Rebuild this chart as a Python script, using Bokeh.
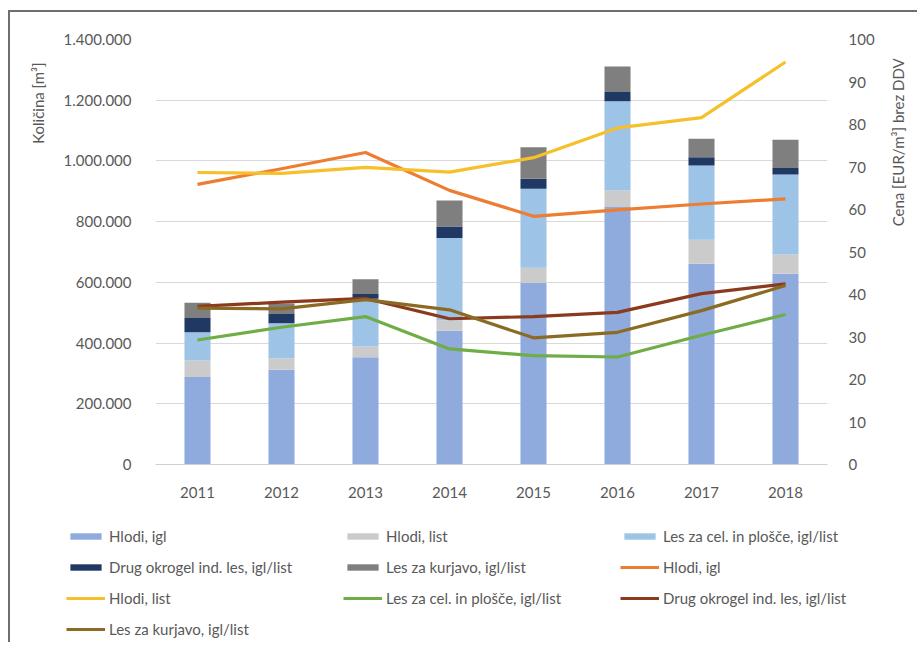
from bokeh.plotting import figure
from bokeh.layouts import row, column
from bokeh.models import (FactorRange, Range1d, LinearAxis, FixedTicker, CustomJSTickFormatter,
                          Legend, LegendItem, Label, ColumnDataSource)
from bokeh.embed import file_html
from bokeh.resources import INLINE

years = ["2011", "2012", "2013", "2014", "2015", "2016", "2017", "2018"]

# Quantities [m3] (stacked bars)
q_hlodi_igl = [288000, 312000, 353000, 441000, 599000, 848000, 661000, 628000]
q_hlodi_list = [55000, 38000, 36000, 33000, 49000, 55000, 79000, 64000]
q_les_cel = [93000, 115000, 157000, 272000, 260000, 294000, 245000, 263000]
q_drug = [47000, 31000, 16000, 38000, 33000, 30000, 27000, 22000]
q_kurjavo = [50000, 34000, 48000, 86000, 104000, 84000, 61000, 93000]

# Prices [EUR/m3] (lines)
p_hlodi_igl = [65.9, 69.6, 73.4, 64.5, 58.4, 59.9, 61.3, 62.5]
p_hlodi_list = [68.7, 68.5, 69.9, 68.8, 72.2, 79.2, 81.6, 94.7]
p_les_cel = [29.3, 32.3, 34.8, 27.2, 25.6, 25.3, 30.4, 35.3]
p_drug = [37.2, 38.2, 39.1, 34.3, 34.8, 35.8, 40.2, 42.5]
p_kurjavo = [36.8, 36.6, 38.8, 36.4, 29.8, 31.1, 36.2, 42.1]

bar_labels = ["Hlodi, igl", "Hlodi, list", "Les za cel. in plošče, igl/list",
              "Drug okrogel ind. les, igl/list", "Les za kurjavo, igl/list"]
line_labels = ["Hlodi, igl", "Hlodi, list", "Les za cel. in plošče, igl/list",
               "Drug okrogel ind. les, igl/list", "Les za kurjavo, igl/list"]
y_left_ticks = [0, 200000, 400000, 600000, 800000, 1000000, 1200000, 1400000]
y_right_ticks = [0, 10, 20, 30, 40, 50, 60, 70, 80, 90, 100]
title_left = "Količina [m³]"
title_right = "Cena [EUR/m³] brez DDV"

bar_colors = ["#8faadc", "#cbcbcb", "#9dc3e6", "#203864", "#7f7f7f"]
line_colors = ["#ed7d31", "#f5c02a", "#70ad47", "#8b3a1e", "#8b6b23"]

FONT = "Lato"
TXT = "#595959"
FS = "15px"


def blank(w, h, **kw):
    f = figure(width=w, height=h, x_range=Range1d(0, w), y_range=Range1d(0, h),
               min_border=0, output_backend="svg", toolbar_location=None, **kw)
    f.axis.visible = False
    f.grid.visible = False
    f.outline_line_color = None
    return f


src = ColumnDataSource(dict(
    year=years,
    q1=q_hlodi_igl, q2=q_hlodi_list, q3=q_les_cel, q4=q_drug, q5=q_kurjavo,
    p1=p_hlodi_igl, p2=p_hlodi_list, p3=p_les_cel, p4=p_drug, p5=p_kurjavo,
))

MAIN_W, MAIN_H = 820, 498
p = figure(x_range=FactorRange(*years), y_range=Range1d(0, 1400000),
           width=MAIN_W, height=MAIN_H,
           min_border_left=95, min_border_right=53, min_border_top=27, min_border_bottom=46,
           output_backend="svg", toolbar_location=None)
p.extra_y_ranges = {"price": Range1d(0, 100)}
p.outline_line_color = None

bars = p.vbar_stack(["q1", "q2", "q3", "q4", "q5"], x="year", width=0.31,
                    color=bar_colors, line_color=None, source=src)
for key, col in zip(["p1", "p2", "p3", "p4", "p5"], line_colors):
    p.line(x="year", y=key, source=src, y_range_name="price",
           line_width=3.2, line_color=col, line_join="round")

p.xgrid.grid_line_color = None
p.ygrid.grid_line_color = "#d9d9d9"
p.yaxis.ticker = FixedTicker(ticks=y_left_ticks)
p.yaxis.formatter = CustomJSTickFormatter(
    code="return Math.round(tick).toString().replace(/\\B(?=(\\d{3})+(?!\\d))/g, '.');")

right = LinearAxis(y_range_name="price", ticker=FixedTicker(ticks=y_right_ticks))
p.add_layout(right, "right")

for ax in [p.xaxis[0], p.yaxis[0], right]:
    ax.major_tick_line_color = None
    ax.minor_tick_line_color = None
    ax.axis_line_color = None
    ax.major_label_text_font = FONT
    ax.major_label_text_font_size = FS
    ax.major_label_text_color = TXT
    ax.major_label_standoff = 18
p.xaxis[0].axis_line_color = "#d0d0d0"
p.xaxis[0].major_label_standoff = 16
right.major_label_standoff = 15

# left title strip
LW = 50
pl = blank(LW, MAIN_H)
pl.add_layout(Label(x=27, y=MAIN_H - 74.5, text=title_left, angle=90, angle_units="deg",
                    text_align="center", text_baseline="middle",
                    text_font=FONT, text_font_size=FS, text_color=TXT))

# right title strip
RW = 37
pr = blank(RW, MAIN_H)
pr.add_layout(Label(x=17, y=MAIN_H - 120.5, text=title_right, angle=90, angle_units="deg",
                    text_align="center", text_baseline="middle",
                    text_font=FONT, text_font_size=FS, text_color=TXT))

# legend strip (legend swatches use off-screen proxy glyphs with the same styles)
LEG_W, LEG_H = LW + MAIN_W + RW, 132
pg = figure(width=LEG_W, height=LEG_H, x_range=Range1d(0, 1), y_range=Range1d(0, 1),
            min_border_left=56, min_border_top=17, min_border_right=0, min_border_bottom=0,
            output_backend="svg", toolbar_location=None)
pg.axis.visible = False
pg.grid.visible = False
pg.outline_line_color = None
dummy = []
for c in bar_colors:
    dummy.append(pg.vbar(x=[5], top=[5], bottom=[4], width=0.1, fill_color=c, line_color=None))
for c in line_colors:
    dummy.append(pg.line(x=[5, 6], y=[5, 5], line_color=c, line_width=3.2))
items = [LegendItem(label=l, renderers=[r]) for l, r in zip(bar_labels + line_labels, dummy)]
legend = Legend(items=items, orientation="horizontal", ncols=3, location="top_left",
                glyph_width=39, glyph_height=8, label_height=8, label_width=221,
                label_standoff=4, spacing=13, padding=0, margin=0,
                border_line_color=None, background_fill_alpha=0,
                label_text_font=FONT, label_text_font_size=FS, label_text_color=TXT)
pg.add_layout(legend, "center")

layout = column(row(pl, p, pr), pg, margin=(10, 0, 0, 8),
                styles={"border-left": "2px solid #6e6e6e", "border-top": "2px solid #6e6e6e"})

open("out.html", "w").write(file_html(layout, INLINE))
